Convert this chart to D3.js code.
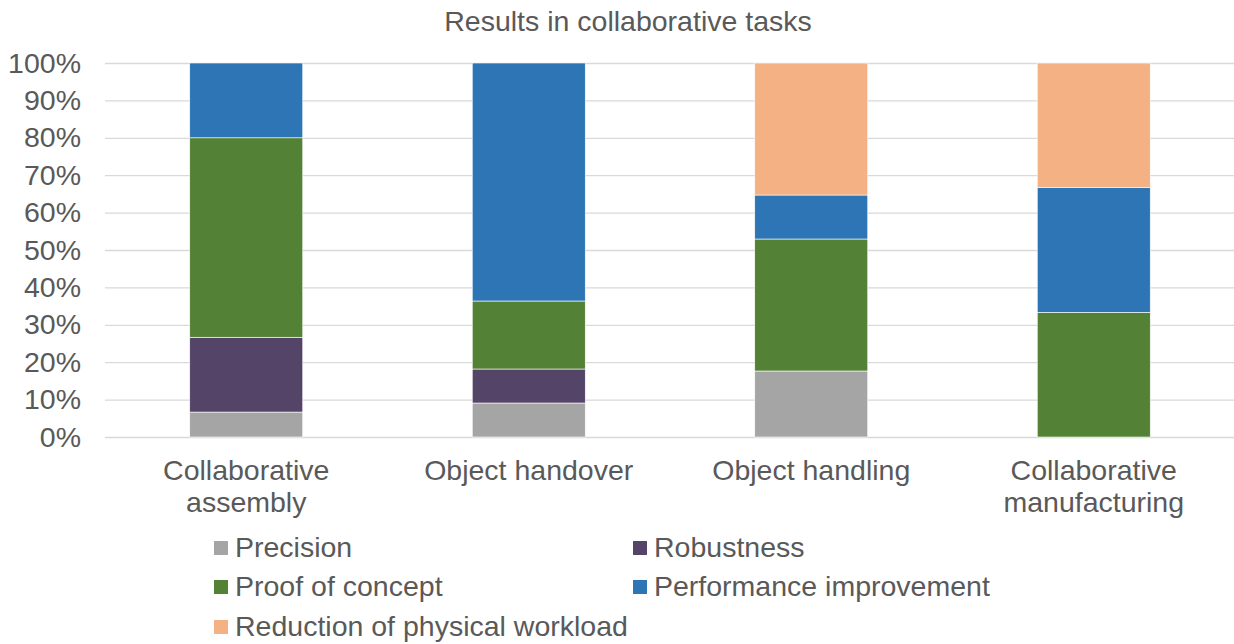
<!DOCTYPE html>
<html>
<head>
<meta charset="utf-8">
<script src="https://cdn.jsdelivr.net/npm/d3@7"></script>
<style>
  body { margin: 0; background: #fff; }
  text { font-family: "Liberation Sans", Arial, sans-serif; fill: #595959; }
</style>
</head>
<body>
<svg id="chart" width="1234" height="644"></svg>
<script>
// categories and series (shares of each task, in %)
var categories = ["Collaborative assembly", "Object handover", "Object handling", "Collaborative manufacturing"];
var seriesNames = ["Precision", "Robustness", "Proof of concept", "Performance improvement", "Reduction of physical workload"];
var precision   = [6.67, 9.09, 17.65, 0];
var robustness  = [20.0, 9.09, 0, 0];
var proof       = [53.33, 18.18, 35.29, 33.33];
var performance = [20.0, 63.64, 11.76, 33.33];
var reduction   = [0, 0, 35.29, 33.33];
var yTicks = [0, 10, 20, 30, 40, 50, 60, 70, 80, 90, 100];
var colors = ["#A5A5A5", "#534468", "#538135", "#2E75B6", "#F4B183"];

var svg = d3.select("#chart");
var plotL = 105, plotR = 1235, plotT = 63, plotB = 437;
var fs = "28.5px";

var rows = categories.map(function(c, i) {
  return {cat: c, s0: precision[i], s1: robustness[i], s2: proof[i], s3: performance[i], s4: reduction[i]};
});
var keys = ["s0", "s1", "s2", "s3", "s4"];
var stacked = d3.stack().keys(keys)(rows);

var x = d3.scaleBand().domain(categories).range([plotL, plotR]).paddingInner(0.6).paddingOuter(0.3);
var y = d3.scaleLinear().domain([0, 100]).range([plotB, plotT]);

// title
svg.append("text")
  .attr("x", 628).attr("y", 31)
  .attr("text-anchor", "middle")
  .style("font-size", fs)
  .text("Results in collaborative tasks");

// gridlines
svg.append("g").selectAll("line").data(yTicks).enter().append("line")
  .attr("x1", plotL).attr("x2", plotR)
  .attr("y1", function(d) { return y(d) + 0.5; })
  .attr("y2", function(d) { return y(d) + 0.5; })
  .attr("stroke", "#D9D9D9").attr("stroke-width", 1.3);

// y axis labels
var yAxis = d3.axisLeft(y).tickValues(yTicks).tickSize(0).tickPadding(0)
  .tickFormat(function(d) { return d + "%"; });
var ga = svg.append("g").attr("transform", "translate(81,0)").call(yAxis);
ga.select(".domain").remove();
ga.selectAll("text").style("font-size", fs).attr("fill", "#595959")
  .style("font-family", "'Liberation Sans', Arial, sans-serif");

// bars
svg.append("g").selectAll("g").data(stacked).enter().append("g")
  .attr("fill", function(d, i) { return colors[i]; })
  .selectAll("rect").data(function(d) { return d; }).enter().append("rect")
  .attr("x", function(d) { return x(d.data.cat); })
  .attr("width", x.bandwidth())
  .attr("y", function(d) { return y(d[1]); })
  .attr("height", function(d) { return y(d[0]) - y(d[1]); })
  .attr("stroke", "#fff").attr("stroke-width", 0.6);

// category labels
var catLines = {
  "Collaborative assembly": ["Collaborative", "assembly"],
  "Object handover": ["Object handover"],
  "Object handling": ["Object handling"],
  "Collaborative manufacturing": ["Collaborative", "manufacturing"]
};
categories.forEach(function(c) {
  var t = svg.append("text")
    .attr("x", x(c) + x.bandwidth() / 2)
    .attr("y", 480)
    .attr("text-anchor", "middle")
    .style("font-size", fs);
  catLines[c].forEach(function(line, j) {
    t.append("tspan").attr("x", x(c) + x.bandwidth() / 2).attr("dy", j === 0 ? 0 : 32).text(line);
  });
});

// legend
var legPos = [[214, 557], [633, 557], [214, 596], [633, 596], [214, 636]];
seriesNames.forEach(function(name, i) {
  var g = svg.append("g").attr("transform", "translate(" + legPos[i][0] + "," + legPos[i][1] + ")");
  g.append("rect").attr("x", 0).attr("y", -16).attr("width", 14).attr("height", 14).attr("fill", colors[i]);
  g.append("text").attr("x", 21).attr("y", 0).style("font-size", fs).text(name);
});
</script>
</body>
</html>
